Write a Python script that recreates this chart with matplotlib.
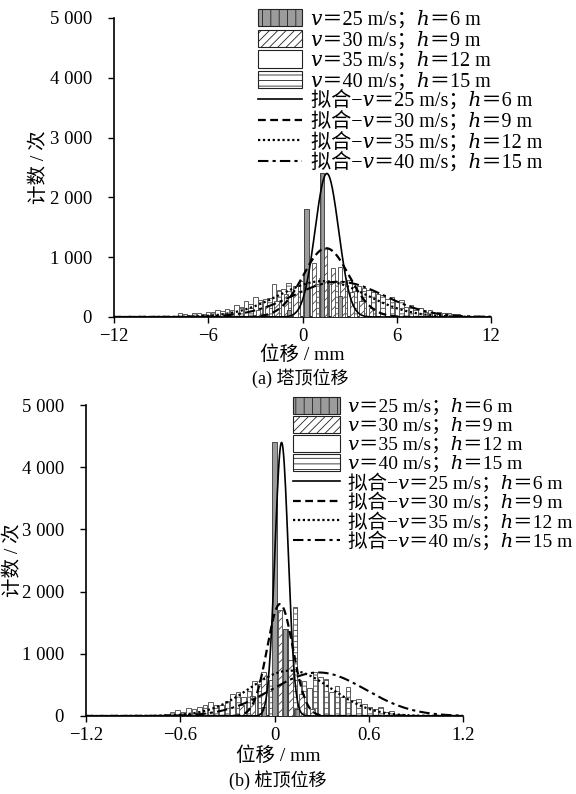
import numpy as np
import matplotlib
matplotlib.use("Agg")
import matplotlib.pyplot as plt
from matplotlib.patches import Patch
from matplotlib.lines import Line2D
from matplotlib.ticker import FuncFormatter

plt.rcParams['font.family'] = ['Liberation Serif', 'DejaVu Serif', 'Noto Sans CJK SC', 'DejaVu Sans']
plt.rcParams['hatch.linewidth'] = 0.6

# ---- 工况标签
cases = ["25 m/s；ℎ＝6 m", "30 m/s；ℎ＝9 m", "35 m/s；ℎ＝12 m", "40 m/s；ℎ＝15 m"]

# ---- (a) 塔顶位移, mm
a_x25 = [-0.85, 0.25, 1.25, 2.4]
a_y25 = [120, 1800, 2400, 350]
a_x30 = [-2.85, -2.25, -1.65, -1.05, -0.45, 0.15, 0.75, 1.45, 1.95, 2.55, 3.15, 3.75, 4.35]
a_y30 = [120, 180, 260, 380, 520, 700, 900, 1150, 820, 600, 420, 260, 150]
a_x35 = [-7.8, -7.2, -6.6, -6.0, -5.4, -4.8, -4.2, -3.6, -3.0, -2.4, -1.8, -1.2, -0.6, 0.0, 0.6,
         1.2, 1.8, 2.4, 3.0, 3.6, 4.2, 4.8, 5.4, 6.0, 6.6, 7.2, 7.8, 8.4, 9.0, 9.6]
a_y35 = [60, 40, 70, 90, 110, 140, 200, 260, 330, 300, 560, 470, 420, 600, 500,
         650, 560, 830, 620, 520, 450, 380, 300, 260, 160, 120, 90, 70, 60, 50]
a_x40 = [-7.5, -6.9, -6.3, -5.7, -5.1, -4.5, -3.9, -3.3, -2.7, -2.1, -1.5, -0.9, -0.3, 0.3, 0.9,
         1.5, 2.1, 2.7, 3.3, 3.9, 4.5, 5.1, 5.7, 6.3, 6.9, 7.5, 8.1, 8.7, 9.3, 9.9]
a_y40 = [50, 60, 50, 80, 100, 120, 160, 220, 280, 320, 450, 570, 520, 450, 560,
         580, 600, 560, 500, 480, 420, 360, 330, 280, 200, 150, 110, 80, 60, 50]
# 拟合曲线参数: 均值, 标准差, 峰值
a_fit = [(1.55, 0.75, 2400), (1.5, 1.45, 1150), (1.3, 2.8, 600), (2.3, 2.9, 590)]

# ---- (b) 桩顶位移, mm
b_x25 = [-0.07, 0.0, 0.07, 0.14]
b_y25 = [150, 4400, 1400, 120]
b_x30 = [-0.21, -0.14, -0.07, 0.035, 0.10, 0.17, 0.24]
b_y30 = [180, 320, 700, 1700, 900, 350, 120]
b_x35 = [-0.687, -0.617, -0.547, -0.477, -0.407, -0.337, -0.267, -0.197, -0.127, -0.057, 0.013,
         0.083, 0.153, 0.223, 0.293, 0.363, 0.433, 0.503, 0.573, 0.643, 0.713, 0.783, 0.853]
b_y35 = [40, 90, 130, 150, 220, 180, 350, 300, 560, 620, 600,
         500, 580, 450, 620, 380, 300, 250, 200, 120, 60, 30, 20]
b_x40 = [-0.653, -0.583, -0.513, -0.443, -0.373, -0.303, -0.233, -0.163, -0.093, -0.023, 0.047,
         0.13, 0.187, 0.257, 0.327, 0.397, 0.467, 0.537, 0.607, 0.677, 0.747, 0.817, 0.887]
b_y40 = [60, 60, 110, 170, 180, 240, 380, 400, 520, 580, 560,
         1760, 560, 700, 600, 480, 460, 270, 150, 140, 80, 40, 20]
b_fit = [(0.045, 0.042, 4400), (0.035, 0.082, 1800), (0.10, 0.26, 730), (0.28, 0.30, 700)]

bar_styles = [
    dict(facecolor='#9c9c9c', edgecolor='#333333', hatch='||'),
    dict(facecolor='white', edgecolor='#444444', hatch='////'),
    dict(facecolor='white', edgecolor='#444444', hatch=None),
    dict(facecolor='white', edgecolor='#444444', hatch='---'),
]
line_styles = [
    dict(ls='-', lw=1.2),
    dict(ls=(0, (3.5, 2)), lw=1.6),
    dict(ls=(0, (1, 1.2)), lw=1.6),
    dict(ls=(0, (5, 2, 1.5, 2)), lw=1.5),
]

fig = plt.figure(figsize=(5.76, 7.94), dpi=100)
W, H = 576, 794


def panel(ax, bars, fits, xlim, xticks, xlabels, width, leg_xy, fs, spacing, hlen):
    order = [2, 3, 1, 0]
    for i in order:
        x, y = bars[i]
        ax.bar(x, y, width=width, linewidth=0.6, zorder=2 + order.index(i), **bar_styles[i])
    xs = np.linspace(xlim[0], xlim[1], 600)
    for i, (mu, sd, pk) in enumerate(fits):
        ax.plot(xs, pk * np.exp(-0.5 * ((xs - mu) / sd) ** 2), color='black', zorder=10,
                **line_styles[i])
    ax.set_xlim(xlim)
    ax.set_ylim(0, 5000)
    ax.set_xticks(xticks)
    ax.set_xticklabels(xlabels)
    ax.set_yticks([0, 1000, 2000, 3000, 4000, 5000])
    ax.yaxis.set_major_formatter(FuncFormatter(lambda v, p: f"{int(v):,}".replace(",", " ")))
    for s in ['top', 'right']:
        ax.spines[s].set_visible(False)
    for s in ['left', 'bottom']:
        ax.spines[s].set_linewidth(1.2)
    ax.tick_params(direction='out', length=4, width=1.0, labelsize=13.5)
    ax.tick_params(axis='y', pad=12)
    ax.tick_params(axis='x', pad=4)

    handles = [Patch(linewidth=0.8, **dict(bar_styles[i], edgecolor='#222222')) for i in range(4)]
    handles += [Line2D([], [], color='black', **line_styles[i]) for i in range(4)]
    labels = ["𝑣＝" + c for c in cases] + ["拟合−𝑣＝" + c for c in cases]
    fig.legend(handles, labels, loc='upper left', bbox_to_anchor=leg_xy, frameon=False,
               fontsize=fs, handlelength=hlen, handleheight=0.95, handletextpad=0.45,
               labelspacing=spacing, borderaxespad=0, borderpad=0)


ax1 = fig.add_axes([114 / W, 1 - 317 / H, (491 - 114) / W, (317 - 18) / H])
panel(ax1, [(a_x25, a_y25), (a_x30, a_y30), (a_x35, a_y35), (a_x40, a_y40)], a_fit,
      (-12, 12), [-12, -6, 0, 6, 12], ['−12', '−6', '0', '6', '12'], 0.28,
      (258 / W, 1 - 9 / H), 14.5, 0.0, 2.2)

ax2 = fig.add_axes([86 / W, 1 - 716 / H, (463 - 86) / W, (716 - 405) / H])
panel(ax2, [(b_x25, b_y25), (b_x30, b_y30), (b_x35, b_y35), (b_x40, b_y40)], b_fit,
      (-1.2, 1.2), [-1.2, -0.6, 0, 0.6, 1.2], ['−1.2', '−0.6', '0', '0.6', '1.2'], 0.03,
      (293 / W, 1 - 397 / H), 14, 0.0, 2.4)

fig.text(39 / W, 1 - 167 / H, "计数 / 次", rotation=90, ha='center', va='center', fontsize=14)
fig.text(302 / W, 1 - 355 / H, "位移 / mm", ha='center', va='center', fontsize=14)
fig.text(300 / W, 1 - 378 / H, "(a) 塔顶位移", ha='center', va='center', fontsize=13)
fig.text(13 / W, 1 - 560 / H, "计数 / 次", rotation=90, ha='center', va='center', fontsize=14)
fig.text(278 / W, 1 - 756 / H, "位移 / mm", ha='center', va='center', fontsize=14)
fig.text(278 / W, 1 - 780 / H, "(b) 桩顶位移", ha='center', va='center', fontsize=13)

fig.savefig("out.png", dpi=100)
